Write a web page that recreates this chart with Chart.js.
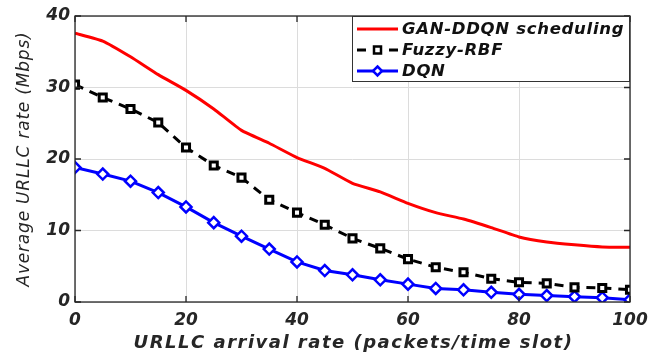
<!DOCTYPE html>
<html>
<head>
<meta charset="utf-8">
<script src="https://cdn.jsdelivr.net/npm/chart.js@4.4.0/dist/chart.umd.min.js"></script>
<style>
  html, body { margin: 0; padding: 0; background: #fff; }
  #wrap { width: 662px; height: 354px; position: relative; }
</style>
</head>
<body>
<div id="wrap"><canvas id="c" width="662" height="354"></canvas></div>
<script>
// arrival rate (packets/time slot)
var rates = [0,5,10,15,20,25,30,35,40,45,50,55,60,65,70,75,80,85,90,95,100];
var ganDdqn = [37.6,36.5,34.3,31.8,29.6,27.0,24.0,22.2,20.2,18.7,16.6,15.4,13.8,12.5,11.6,10.4,9.1,8.4,8.0,7.7,7.65];
var fuzzyRbf = [30.4,28.6,27.0,25.1,21.6,19.1,17.4,14.3,12.5,10.8,8.9,7.5,6.0,4.85,4.15,3.26,2.75,2.6,2.05,1.96,1.72];
var dqn = [18.8,17.9,16.9,15.3,13.3,11.1,9.2,7.4,5.6,4.4,3.8,3.1,2.5,1.9,1.7,1.35,1.07,0.9,0.75,0.6,0.3];
var seriesNames = ["GAN-DDQN scheduling", "Fuzzy-RBF", "DQN"];
var xTicks = [0,20,40,60,80,100];
var yTicks = [0,10,20,30,40];
var xTitle = 'URLLC arrival rate (packets/time slot)';
var yTitle = 'Average URLLC rate (Mbps)';

function pts(arr){
	var out=[];
	for(var i=0;i<arr.length;i++){ out.push({x: rates[i], y: arr[i]}); }
	return out;
}

var fam = "'DejaVu Sans', sans-serif";
var tickFont = { family: fam, size: 17, weight: 'bold', style: 'italic' };

// frame, axis titles + legend drawn on top of the plot
var framePlugin = {
	id: 'frame',
	afterDraw: function(chart){
		var ctx = chart.ctx, a = chart.chartArea;
		var xs = chart.scales.x, ys = chart.scales.y;
		ctx.save();
		ctx.strokeStyle = '#262626';
		ctx.lineWidth = 1.3;
		ctx.strokeRect(a.left, a.top, a.right - a.left, a.bottom - a.top);
		// inward ticks
		ctx.beginPath();
		for(var i=0;i<yTicks.length;i++){
			var py = ys.getPixelForValue(yTicks[i]);
			ctx.moveTo(a.left, py); ctx.lineTo(a.left + 6, py);
			ctx.moveTo(a.right, py); ctx.lineTo(a.right - 6, py);
		}
		for(var j=0;j<xTicks.length;j++){
			var px = xs.getPixelForValue(xTicks[j]);
			ctx.moveTo(px, a.bottom); ctx.lineTo(px, a.bottom - 6);
			ctx.moveTo(px, a.top); ctx.lineTo(px, a.top + 6);
		}
		ctx.stroke();

		// axis titles (spaced out like the original)
		ctx.fillStyle = '#262626';
		ctx.textAlign = 'center';
		ctx.textBaseline = 'middle';
		ctx.font = "italic bold 18px " + fam;
		ctx.letterSpacing = '1.5px';
		ctx.fillText(xTitle, (a.left + a.right) / 2 + 1, 343);
		ctx.save();
		ctx.translate(25, (a.top + a.bottom) / 2);
		ctx.rotate(-Math.PI / 2);
		ctx.font = "italic 17px " + fam;
		ctx.letterSpacing = '0.8px';
		ctx.fillText(yTitle, 0, 0);
		ctx.restore();

		// legend
		var lx = 352, ly = a.top, lw = a.right - lx, lh = 66;
		ctx.fillStyle = '#fff';
		ctx.fillRect(lx, ly, lw, lh);
		ctx.strokeStyle = '#333';
		ctx.lineWidth = 1;
		ctx.strokeRect(lx + 0.5, ly + 0.5, lw - 1, lh - 1);
		var ds = chart.data.datasets;
		ctx.font = "italic bold 16.5px " + fam;
		ctx.letterSpacing = '0.7px';
		ctx.textAlign = 'left';
		ctx.textBaseline = 'middle';
		for(var k=0;k<ds.length;k++){
			var ry = ly + 13 + k * 21;
			ctx.strokeStyle = ds[k].borderColor;
			ctx.lineWidth = ds[k].borderWidth;
			ctx.setLineDash(ds[k].borderDash || []);
			ctx.beginPath(); ctx.moveTo(357, ry); ctx.lineTo(398, ry); ctx.stroke();
			ctx.setLineDash([]);
			if(ds[k].pointRadius > 0){
				var cx = 377.5;
				ctx.fillStyle = ds[k].pointBackgroundColor;
				ctx.strokeStyle = ds[k].pointBorderColor;
				ctx.lineWidth = 2.5;
				ctx.beginPath();
				if(ds[k].pointStyle === 'rectRot'){
					ctx.moveTo(cx, ry - 4.5); ctx.lineTo(cx + 4.5, ry); ctx.lineTo(cx, ry + 4.5); ctx.lineTo(cx - 4.5, ry); ctx.closePath();
				} else {
					ctx.rect(cx - 3.5, ry - 3.5, 7, 7);
				}
				ctx.fill(); ctx.stroke();
			}
			ctx.fillStyle = '#111';
			ctx.fillText(ds[k].label, 402, ry + 1);
		}
		ctx.letterSpacing = '0px';
		ctx.restore();
	}
};

new Chart(document.getElementById('c'), {
	type: 'line',
	data: {
		datasets: [
			{
				label: seriesNames[0], data: pts(ganDdqn),
				borderColor: '#ff0000', borderWidth: 3, pointRadius: 0,
				tension: 0.15, pointStyle: false
			},
			{
				label: seriesNames[1], data: pts(fuzzyRbf),
				borderColor: '#000', borderWidth: 3, borderDash: [9, 7],
				pointStyle: 'rect', pointRadius: 5, pointBorderWidth: 3,
				pointBorderColor: '#000', pointBackgroundColor: '#fff'
			},
			{
				label: seriesNames[2], data: pts(dqn),
				borderColor: '#0000ff', borderWidth: 3,
				pointStyle: 'rectRot', pointRadius: 5.5, pointBorderWidth: 2.5,
				pointBorderColor: '#0000ff', pointBackgroundColor: '#fff'
			}
		]
	},
	options: {
		responsive: false,
		animation: false,
		layout: { padding: { left: 0, right: 32, top: 16, bottom: 0 } },
		plugins: { legend: { display: false }, tooltip: { enabled: false } },
		scales: {
			x: {
				type: 'linear', min: 0, max: 100,
				afterBuildTicks: function(s){ s.ticks = xTicks.map(function(v){ return {value: v}; }); },
				afterFit: function(s){ s.height = 52; },
				grid: { color: '#dcdcdc', drawTicks: false },
				border: { display: false },
				ticks: { color: '#262626', font: tickFont, padding: 8 },
				title: { display: false }
			},
			y: {
				min: 0, max: 40,
				afterBuildTicks: function(s){ s.ticks = yTicks.map(function(v){ return {value: v}; }); },
				afterFit: function(s){ s.width = 75; },
				grid: { color: '#dcdcdc', drawTicks: false },
				border: { display: false },
				ticks: { color: '#262626', font: tickFont, padding: 5 },
				title: { display: false }
			}
		}
	},
	plugins: [framePlugin]
});
</script>
</body>
</html>
